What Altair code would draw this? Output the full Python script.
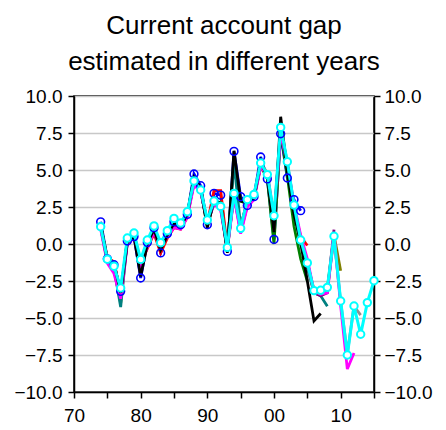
import altair as alt
import pandas as pd

START_YEAR = 1974

# Vintages of the current account gap estimate (values from 1974 onward)
v_red = [1.2, -0.9, -1.2, -3.4, 0.2, 0.5, -1.4, -0.3, 0.7, -0.6, 0.4, 1.1, 1.0, 1.8, 4.3, 3.7, 1.4, 3.6, 3.6, -0.3,
         3.5, 1.2, 2.9, 3.2, 5.4, 4.6, 1.6, 7.7, 5.3, 2.4, 0.5, -0.1]
v_green = [1.2, -1.0, -1.5, -3.6, 0.3, 0.6, -1.6, 0.1, 1.0, -0.3, 0.7, 1.5, 1.2, 2.0, 4.4, 3.7, 1.2, 2.9, 2.8, -0.4,
           5.8, 2.9, 2.7, 3.1, 5.3, 4.4, 0.0, 7.6, 4.6, 1.2, -1.0, -2.5]
v_olive = [1.1, -1.1, -1.7, -4.0, 0.3, 0.6, -1.3, 0.1, 1.0, -0.1, 0.7, 1.4, 1.3, 2.1, 4.1, 3.6, 1.5, 2.8, 2.6, -0.3,
           3.4, 1.0, 2.8, 3.2, 5.2, 4.6, 0.9, 7.7, 5.3, 2.5, 0.2, -1.3, -3.1, -3.2, -3.0, 0.6, -1.8]
v_teal = [1.2, -1.0, -1.6, -4.26, 0.3, 0.7, -1.3, 0.1, 1.1, -0.1, 0.8, 1.5, 1.3, 2.1, 4.2, 3.6, 1.4, 2.8, 2.6, -0.3,
          5.5, 1.2, 2.9, 3.3, 5.3, 4.6, 1.3, 7.6, 5.3, 2.3, 0.0, -1.6, -3.3, -3.5, -4.2]
v_gray = [1.1, -1.1, -1.6, -3.3, 0.3, 0.6, -1.2, 0.0, 0.9, -0.2, 0.6, 1.4, 1.2, 2.0, 4.2, 3.6, 1.5, 2.8, 2.5, -0.3,
          3.4, 1.0, 2.9, 3.3, 5.5, 4.8, 1.9, 7.8, 5.5, 2.6, 0.2, -1.3, -3.3, -3.3, -3.1, 0.4, -3.9, -7.4, -4.2, -4.8]
v_purple = [1.1, -1.2, -1.8, -3.5, 0.1, 0.5, -1.5, -0.1, 0.8, -0.3, 0.5, 1.2, 1.1, 1.9, 4.1, 3.6, 1.4, 2.7, 2.4, -0.4,
            3.3, 0.8, 2.6, 3.1, 5.3, 4.6, 1.6, 7.6, 5.4, 2.5, 0.3, -1.2, -3.3, -3.5, -3.3, 0.97]
v_magenta = [1.0, -1.3, -2.0, -3.7, 0.0, 0.4, -1.4, -0.2, 0.8, -0.2, 0.5, 1.1, 1.0, 1.8, 4.0, 3.5, 1.5, 2.7, 2.3, -0.3,
             3.2, 0.7, 2.5, 3.0, 5.2, 4.7, 1.6, 7.5, 5.4, 2.7, 0.6, -1.0, -3.2, -3.4, -3.3, 0.7, -4.2, -8.45, -7.37]
v_black = [1.3, -1.1, -1.3, -3.3, 0.1, 0.5, -2.2, 0.0, 1.0, -0.4, 0.6, 1.4, 1.2, 2.0, 4.5, 3.8, 1.1, 3.0, 2.7, -0.6,
           6.3, 2.9, 2.8, 3.1, 5.6, 4.5, 0.8, 8.6, 4.9, 2.0, 0.1, -2.5, -5.2, -4.7]
v_blue = [1.5, -1.0, -1.4, -3.2, 0.2, 0.5, -2.3, 0.1, 1.1, -0.6, 0.7, 1.5, 1.3, 2.0, 4.73, 3.94, 1.3, 3.42, 3.3, -0.5,
          6.26, 3.2, 2.6, 3.2, 5.88, 4.4, 0.31, 7.45, 4.46, 3.0, 2.25]
v_cyan = [1.17, -1.03, -1.5, -2.97, 0.4, 0.74, -1.04, 0.27, 1.22, 0.09, 0.9, 1.73, 1.42, 2.18, 4.26, 3.65, 1.62, 2.9,
          2.54, -0.23, 3.42, 1.06, 3.0, 3.35, 5.47, 4.69, 1.91, 7.88, 5.56, 2.64, 0.27, -1.28, -3.15, -3.13, -2.93,
          0.52, -3.85, -7.5, -4.19, -6.1, -3.96, -2.48]

x_tick_values = [1970, 1975, 1980, 1985, 1990, 1995, 2000, 2005, 2010, 2015]
y_tick_values = [-10, -7.5, -5, -2.5, 0, 2.5, 5, 7.5, 10]

# drawing order: first drawn at the bottom
series = [
    ("blue", "#0000ff", v_blue),
    ("red", "#ff0000", v_red),
    ("green", "#008000", v_green),
    ("olive", "#808000", v_olive),
    ("teal", "#008080", v_teal),
    ("gray", "#909090", v_gray),
    ("purple", "#800080", v_purple),
    ("magenta", "#ff00ff", v_magenta),
    ("black", "#000000", v_black),
    ("cyan", "#00ffff", v_cyan),
]


def frame(vals):
    return pd.DataFrame({"year": [START_YEAR + i for i in range(len(vals))], "value": vals})


FONT = "Liberation Sans"
xscale = alt.Scale(domain=[1970, 2015], nice=False, zero=False)
yscale = alt.Scale(domain=[-10, 10], nice=False, zero=False)

x_enc = alt.X(
    "year:Q", scale=xscale, title=None,
    axis=alt.Axis(values=x_tick_values, grid=False, tickSize=6, labelFontSize=19, labelFont=FONT,
                  labelColor="black", domainColor="black", domainWidth=1.5, tickColor="black",
                  tickWidth=1.5, labelPadding=8, labelFlush=False,
                  labelExpr="datum.value % 10 == 0 ? substring(toString(datum.value), 2, 4) : ''"))
y_enc = alt.Y(
    "value:Q", scale=yscale, title=None,
    axis=alt.Axis(values=y_tick_values, format=".1f", grid=True, gridColor="#c8c8c8", gridWidth=1.5,
                  tickSize=6, labelFontSize=19, labelFont=FONT, labelColor="black", domainColor="black",
                  domainWidth=1.5, tickColor="black", tickWidth=1.5, labelPadding=6))

layers = []
for name, color, vals in series:
    sw = 3 if name == "cyan" else 2.8
    layers.append(alt.Chart(frame(vals)).mark_line(color=color, strokeWidth=sw).encode(x=x_enc, y=y_enc))

layers.append(alt.Chart(frame(v_blue)).mark_point(
    shape="circle", filled=False, color="#0000ff", size=60, strokeWidth=1.6, opacity=1).encode(x=x_enc, y=y_enc))
layers.append(alt.Chart(frame(v_cyan)).mark_point(
    shape="circle", filled=True, fill="white", stroke="#00ffff", size=55, strokeWidth=2, opacity=1
).encode(x=x_enc, y=y_enc))

main = alt.layer(*layers)

right_axis = alt.Chart(pd.DataFrame({"v": [-10, 10]})).mark_point(opacity=0).encode(
    y=alt.Y("v:Q", scale=yscale, title=None,
            axis=alt.Axis(orient="right", values=y_tick_values, format=".1f", grid=False, tickSize=6,
                          labelFontSize=19, labelFont=FONT, labelColor="black", domainColor="black",
                          domainWidth=1.5, tickColor="black", tickWidth=1.5, labelPadding=4))
)

chart = alt.layer(main, right_axis).resolve_scale(y="independent").properties(
    width=300, height=296,
    title=alt.TitleParams(["Current account gap", "estimated in different years"], fontSize=26, font=FONT,
                          fontWeight="normal", color="black", lineHeight=36, anchor="middle", offset=12),
).configure_view(stroke="black", strokeWidth=1.5)

chart.save("out.html", embed_options={"renderer": "svg", "actions": False})
